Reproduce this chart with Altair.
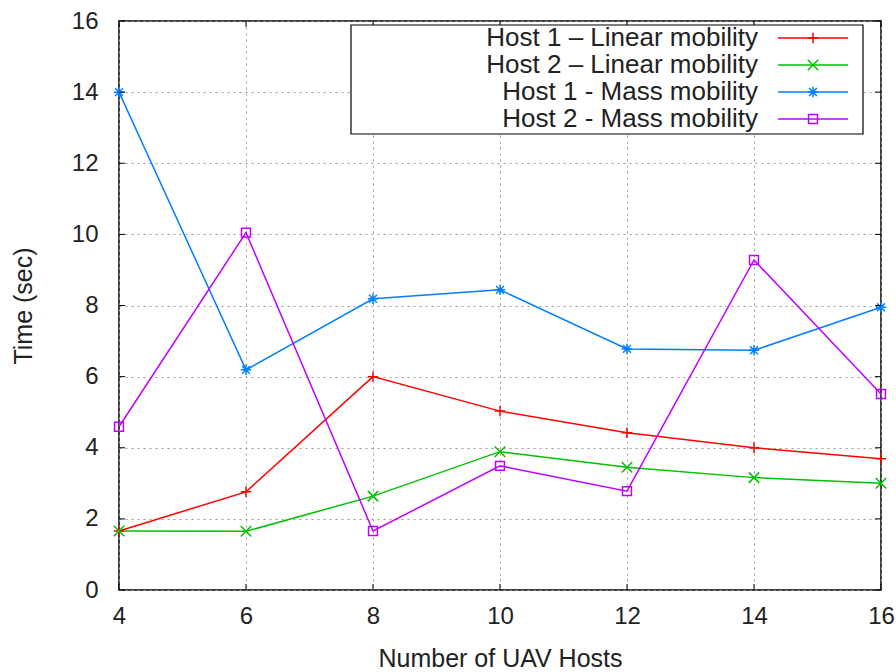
import altair as alt
import pandas as pd

# ---------------- data ----------------
hosts = [4, 6, 8, 10, 12, 14, 16]
series_names = [
    "Host 1 \u2013 Linear mobility",
    "Host 2 \u2013 Linear mobility",
    "Host 1 - Mass mobility",
    "Host 2 - Mass mobility",
]
host1_linear = [1.66, 2.76, 6.00, 5.03, 4.42, 4.00, 3.69]
host2_linear = [1.66, 1.65, 2.64, 3.89, 3.45, 3.16, 3.00]
host1_mass = [14.00, 6.19, 8.19, 8.44, 6.78, 6.74, 7.95]
host2_mass = [4.59, 10.05, 1.66, 3.49, 2.78, 9.28, 5.51]
x_ticks = [4, 6, 8, 10, 12, 14, 16]
y_ticks = [0, 2, 4, 6, 8, 10, 12, 14, 16]

# ---------------- styles ----------------
colors = ["#ff0000", "#00c000", "#0080ff", "#c000ff"]
shapes = [
    "M-1,0H1M0,-1V1",
    "M-1,-1L1,1M-1,1L1,-1",
    "M-1,0H1M0,-1V1M-0.75,-0.75L0.75,0.75M-0.75,0.75L0.75,-0.75",
    "M-0.85,-0.85H0.85V0.85H-0.85Z",
]
FONT = "Liberation Sans"
TXT = "#222222"
W, H = 762, 569

rows = []
for name, vals in zip(series_names, [host1_linear, host2_linear, host1_mass, host2_mass]):
    for h, v in zip(hosts, vals):
        rows.append({"hosts": h, "time": v, "series": name})
df = pd.DataFrame(rows)

xscale = alt.Scale(domain=[4, 16], nice=False, zero=False)
yscale = alt.Scale(domain=[0, 16], nice=False, zero=True)
color_enc = alt.Color("series:N", scale=alt.Scale(domain=series_names, range=colors), legend=None)
shape_enc = alt.Shape("series:N", scale=alt.Scale(domain=series_names, range=shapes), legend=None)

x_enc = alt.X(
    "hosts:Q", scale=xscale,
    axis=alt.Axis(values=x_ticks, format="d", title="Number of UAV Hosts", grid=True, ticks=False,
                  tickSize=0, domain=False, labelPadding=33, labelBaseline="alphabetic",
                  labelFlush=False, labelOverlap=False,
                  titleBaseline="alphabetic", titleY=76),
)
y_enc = alt.Y(
    "time:Q", scale=yscale,
    axis=alt.Axis(values=y_ticks, format="d", title="Time (sec)", grid=True, ticks=False, tickSize=0,
                  domain=False, labelPadding=21, labelFlush=False, labelOverlap=False,
                  titleAngle=270, titleBaseline="alphabetic",
                  titleX=-88, titleY=H / 2),
)

lines = alt.Chart(df).mark_line(strokeWidth=1.5).encode(
    x=x_enc, y=y_enc, color=color_enc, detail="series:N"
)
points = alt.Chart(df).mark_point(filled=False, size=110, strokeWidth=1.5, opacity=1).encode(
    x=alt.X("hosts:Q", scale=xscale), y=alt.Y("time:Q", scale=yscale),
    color=color_enc, shape=shape_enc,
)

xt_df = pd.DataFrame({"v": x_ticks})
yt_df = pd.DataFrame({"v": y_ticks})
xt_bottom = alt.Chart(xt_df).mark_rule(color="black", strokeWidth=1).encode(
    x=alt.X("v:Q", scale=xscale), y=alt.value(H), y2=alt.value(H - 6))
xt_top = alt.Chart(xt_df).mark_rule(color="black", strokeWidth=1).encode(
    x=alt.X("v:Q", scale=xscale), y=alt.value(0), y2=alt.value(6))
yt_left = alt.Chart(yt_df).mark_rule(color="black", strokeWidth=1).encode(
    y=alt.Y("v:Q", scale=yscale), x=alt.value(0), x2=alt.value(6))
yt_right = alt.Chart(yt_df).mark_rule(color="black", strokeWidth=1).encode(
    y=alt.Y("v:Q", scale=yscale), x=alt.value(W), x2=alt.value(W - 6))

main = alt.layer(lines, points, xt_bottom, xt_top, yt_left, yt_right)

# ---------------- legend ----------------
leg_df = pd.DataFrame({"series": series_names})
ly = alt.Y("series:N", scale=alt.Scale(type="point", domain=series_names, range=[17, 98], padding=0), axis=None)

box = alt.Chart(pd.DataFrame({"b": [0]})).mark_rect(fill="white", stroke="black", strokeWidth=1.2).encode(
    x=alt.value(232), x2=alt.value(744), y=alt.value(4), y2=alt.value(113))
ltext = alt.Chart(leg_df).mark_text(align="right", baseline="middle", font=FONT, fontSize=26, color=TXT).encode(
    x=alt.value(639), y=ly, text="series:N")
lline = alt.Chart(leg_df).mark_rule(strokeWidth=1.5).encode(
    x=alt.value(659), x2=alt.value(729), y=ly, color=color_enc)
lpoint = alt.Chart(leg_df).mark_point(filled=False, size=110, strokeWidth=1.5, opacity=1).encode(
    x=alt.value(694), y=ly, color=color_enc, shape=shape_enc)

legend = alt.layer(box, lline, lpoint, ltext)

chart = (
    alt.layer(main, legend)
    .resolve_scale(y="independent")
    .properties(
        width=W, height=H,
        autosize=alt.AutoSizeParams(type="none"),
        padding={"left": 119, "top": 21, "right": 15, "bottom": 82},
        background="white",
    )
    .configure_view(stroke="black", strokeWidth=1.5)
    .configure_axis(
        labelFont=FONT, labelFontSize=24, labelColor=TXT,
        titleFont=FONT, titleFontSize=25, titleColor=TXT, titleFontWeight="normal",
        gridColor="#9a9a9a", gridDash=[2, 4], gridWidth=1, gridOpacity=1,
    )
)

chart.save("out.html", embed_options={"renderer": "svg", "actions": False})
